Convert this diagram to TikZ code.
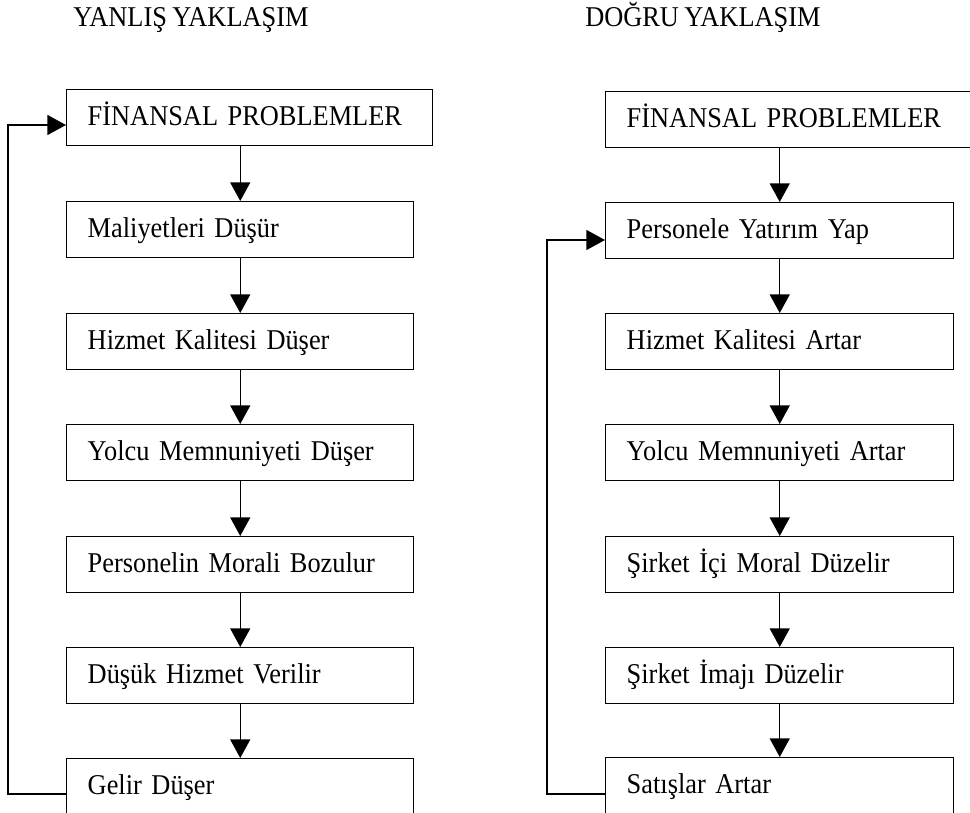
\documentclass[tikz,border=0pt]{standalone}
\usepackage{fontspec}
\setmainfont[FakeStretch=0.92,WordSpace=0.8]{Liberation Serif}
\usetikzlibrary{arrows.meta}
\begin{document}
\begin{tikzpicture}[x=0.75pt,y=-0.75pt,
  every node/.style={font=\fontsize{21.5}{26}\selectfont},
  stepbox/.style={draw, line width=1.1pt, rectangle, anchor=north west, align=left,
    inner xsep=15.75pt, inner ysep=10pt, text height=16.9pt, text depth=5pt},
  lastbox/.style={stepbox, text depth=30pt},
  flow/.style={line width=1.1pt, -{Triangle[width=15pt,length=14pt]}},
  title/.style={anchor=base west, inner sep=0pt}]
\useasboundingbox (0,0) rectangle (970,813);
\clip (0,0) rectangle (970,813);

% headings
\node[title] (tl) at (73,27) {YANLIŞ YAKLAŞIM};
\node[title] (tr) at (585,27) {DOĞRU YAKLAŞIM};

% wrong approach
\node[stepbox, text width=243pt]    (l0) at (66,89)  {FİNANSAL PROBLEMLER};
\node[stepbox, text width=228.75pt] (l1) at (66,201) {Maliyetleri Düşür};
\node[stepbox, text width=228.75pt] (l2) at (66,313) {Hizmet Kalitesi Düşer};
\node[stepbox, text width=228.75pt] (l3) at (66,424) {Yolcu Memnuniyeti Düşer};
\node[stepbox, text width=228.75pt] (l4) at (66,536) {Personelin Morali Bozulur};
\node[stepbox, text width=228.75pt] (l5) at (66,647) {Düşük Hizmet Verilir};
\node[lastbox, text width=228.75pt] (l6) at (66,758) {Gelir Düşer};

\draw[flow] (l0.south -| l1.north) -- (l1.north);
\draw[flow] (l1.south) -- (l2.north);
\draw[flow] (l2.south) -- (l3.north);
\draw[flow] (l3.south) -- (l4.north);
\draw[flow] (l4.south) -- (l5.north);
\draw[flow] (l5.south) -- (l6.north);

\coordinate (lb) at (8,794);
\coordinate (lt) at (8,125);
\draw[flow] (l6.west |- lb) -- (lb) -- (lt) -- (l0.west |- lt);

% right approach
\node[stepbox, text width=275pt]    (r0) at (605,91)  {FİNANSAL PROBLEMLER};
\node[stepbox, text width=229.5pt]  (r1) at (605,202) {Personele Yatırım Yap};
\node[stepbox, text width=229.5pt]  (r2) at (605,313) {Hizmet Kalitesi Artar};
\node[stepbox, text width=229.5pt]  (r3) at (605,424) {Yolcu Memnuniyeti Artar};
\node[stepbox, text width=229.5pt]  (r4) at (605,536) {Şirket İçi Moral Düzelir};
\node[stepbox, text width=229.5pt]  (r5) at (605,647) {Şirket İmajı Düzelir};
\node[lastbox, text width=229.5pt]  (r6) at (605,757) {Satışlar Artar};

\draw[flow] (r0.south -| r1.north) -- (r1.north);
\draw[flow] (r1.south) -- (r2.north);
\draw[flow] (r2.south) -- (r3.north);
\draw[flow] (r3.south) -- (r4.north);
\draw[flow] (r4.south) -- (r5.north);
\draw[flow] (r5.south) -- (r6.north);

\coordinate (rb) at (547,794);
\coordinate (rt) at (547,240);
\draw[flow] (r6.west |- rb) -- (rb) -- (rt) -- (r1.west |- rt);
\end{tikzpicture}
\end{document}
